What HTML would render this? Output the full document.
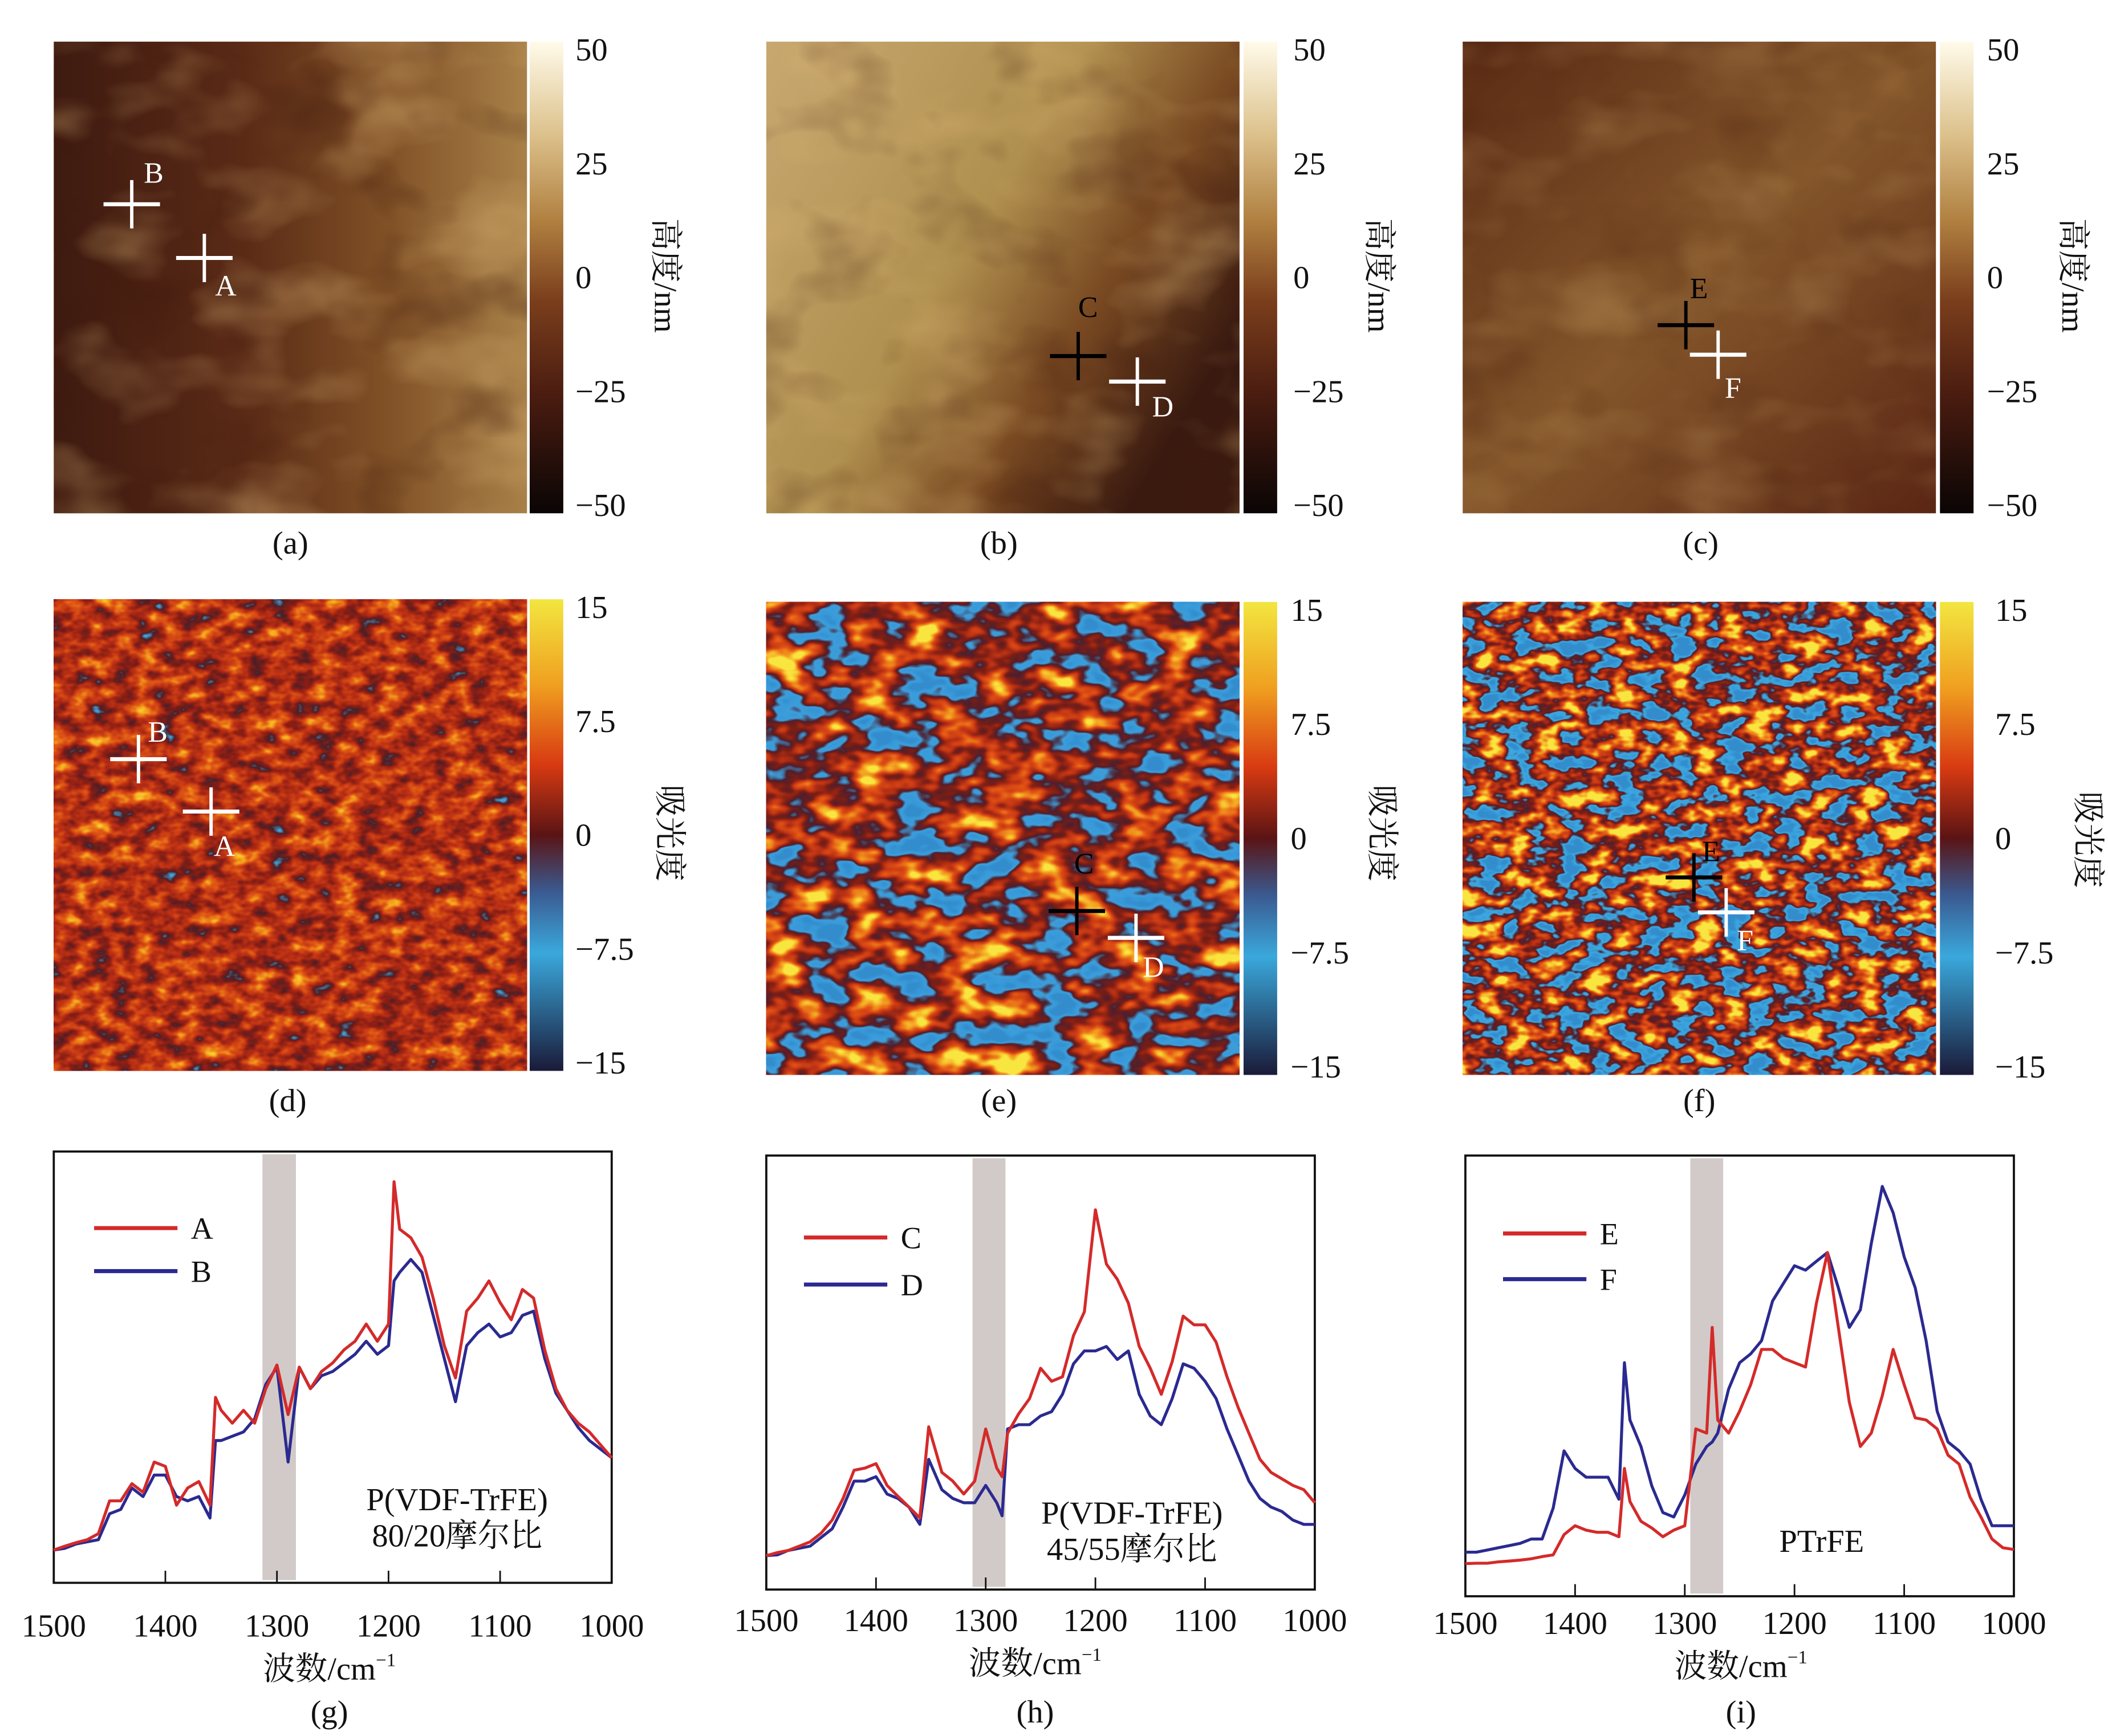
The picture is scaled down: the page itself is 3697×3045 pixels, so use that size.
<!DOCTYPE html>
<html><head><meta charset="utf-8">
<style>
html,body{margin:0;padding:0;background:#fff;}
svg{display:block;}
text{font-family:"Liberation Serif","Noto Serif CJK SC",serif;fill:#111;}
</style></head>
<body>
<svg id="fig" width="3697" height="3045" viewBox="0 0 1568 1292" preserveAspectRatio="none" xmlns="http://www.w3.org/2000/svg">
<defs>
  <linearGradient id="afmBar" x1="0" y1="0" x2="0" y2="1">
    <stop offset="0" stop-color="#fffbea"/><stop offset="0.2" stop-color="#dcc08a"/>
    <stop offset="0.38" stop-color="#b08040"/><stop offset="0.55" stop-color="#7a3e1c"/>
    <stop offset="0.75" stop-color="#4a1c10"/><stop offset="1" stop-color="#0a0505"/>
  </linearGradient>
  <linearGradient id="irBar" x1="0" y1="0" x2="0" y2="1">
    <stop offset="0" stop-color="#f2e640"/><stop offset="0.18" stop-color="#f0a020"/>
    <stop offset="0.35" stop-color="#d83a12"/><stop offset="0.5" stop-color="#5a1414"/>
    <stop offset="0.62" stop-color="#3a5a90"/><stop offset="0.75" stop-color="#3aa8dc"/>
    <stop offset="1" stop-color="#1a1a38"/>
  </linearGradient>
  <linearGradient id="afmA" x1="0" y1="0" x2="1" y2="0">
    <stop offset="0" stop-color="#3e1a10"/><stop offset="0.4" stop-color="#5a2a16"/>
    <stop offset="0.7" stop-color="#805026"/><stop offset="1" stop-color="#a88048"/>
  </linearGradient>
  <linearGradient id="afmB" x1="0" y1="0" x2="1" y2="0.6">
    <stop offset="0" stop-color="#c8a870"/><stop offset="0.5" stop-color="#b0904f"/>
    <stop offset="0.75" stop-color="#7a4a22"/><stop offset="1" stop-color="#3a1a10"/>
  </linearGradient>
  <linearGradient id="afmC" x1="0" y1="0" x2="1" y2="1">
    <stop offset="0" stop-color="#5a2a14"/><stop offset="0.5" stop-color="#84562a"/>
    <stop offset="1" stop-color="#5a2614"/>
  </linearGradient>
  <filter id="afmNoise" x="0" y="0" width="1" height="1" color-interpolation-filters="sRGB">
    <feTurbulence type="fractalNoise" baseFrequency="0.012 0.02" numOctaves="3" seed="4"/>
    <feColorMatrix type="matrix" values="0 0 0 0 0.85  0 0 0 0 0.7  0 0 0 0 0.45  1.8 0 0 0 -0.85"/>
  </filter>
  <filter id="afmNoise2" x="0" y="0" width="1" height="1" color-interpolation-filters="sRGB">
    <feTurbulence type="fractalNoise" baseFrequency="0.015 0.02" numOctaves="3" seed="9"/>
    <feColorMatrix type="matrix" values="0 0 0 0 0.25  0 0 0 0 0.1  0 0 0 0 0.05  -1.8 0 0 0 0.85"/>
  </filter>
  <filter id="irD" x="0" y="0" width="1" height="1" color-interpolation-filters="sRGB">
    <feTurbulence type="fractalNoise" baseFrequency="0.06 0.09" numOctaves="3" seed="2"/>
    <feColorMatrix type="matrix" values="0.9 0 0 0 0.15  0.9 0 0 0 0.15  0.9 0 0 0 0.15  0 0 0 0 1"/>
    <feComponentTransfer>
      <feFuncR type="table" tableValues="0.10 0.20 0.25 0.30 0.55 0.75 0.88 0.96 0.98"/>
      <feFuncG type="table" tableValues="0.12 0.45 0.65 0.12 0.12 0.20 0.35 0.65 0.90"/>
      <feFuncB type="table" tableValues="0.30 0.75 0.88 0.15 0.08 0.08 0.08 0.12 0.25"/>
    </feComponentTransfer>
  </filter>
  <filter id="irE" x="0" y="0" width="1" height="1" color-interpolation-filters="sRGB">
    <feTurbulence type="fractalNoise" baseFrequency="0.03 0.05" numOctaves="3" seed="7"/>
    <feColorMatrix type="matrix" values="2.0 0 0 0 -0.5  2.0 0 0 0 -0.5  2.0 0 0 0 -0.5  0 0 0 0 1"/>
    <feComponentTransfer>
      <feFuncR type="table" tableValues="0.20 0.22 0.24 0.30 0.50 0.75 0.88 0.95 0.98"/>
      <feFuncG type="table" tableValues="0.55 0.60 0.62 0.12 0.12 0.20 0.32 0.60 0.90"/>
      <feFuncB type="table" tableValues="0.80 0.85 0.86 0.18 0.08 0.08 0.08 0.12 0.25"/>
    </feComponentTransfer>
  </filter>
  <filter id="irF" x="0" y="0" width="1" height="1" color-interpolation-filters="sRGB">
    <feTurbulence type="fractalNoise" baseFrequency="0.05 0.08" numOctaves="3" seed="12"/>
    <feColorMatrix type="matrix" values="2.2 0 0 0 -0.6  2.2 0 0 0 -0.6  2.2 0 0 0 -0.6  0 0 0 0 1"/>
    <feComponentTransfer>
      <feFuncR type="table" tableValues="0.20 0.22 0.24 0.30 0.50 0.75 0.88 0.95 0.98"/>
      <feFuncG type="table" tableValues="0.55 0.62 0.66 0.12 0.12 0.20 0.32 0.60 0.90"/>
      <feFuncB type="table" tableValues="0.80 0.86 0.88 0.18 0.08 0.08 0.08 0.12 0.25"/>
    </feComponentTransfer>
  </filter>
</defs>

<!-- Row 1: AFM height maps -->
<g>
  <rect x="40" y="31" width="352" height="351" fill="url(#afmA)"/>
  <rect x="40" y="31" width="352" height="351" filter="url(#afmNoise)" opacity="0.6"/>
  <rect x="40" y="31" width="352" height="351" filter="url(#afmNoise2)" opacity="0.6"/>
</g>
<g>
  <rect x="570" y="31" width="352" height="351" fill="url(#afmB)"/>
  <rect x="570" y="31" width="352" height="351" filter="url(#afmNoise)" opacity="0.6"/>
  <rect x="570" y="31" width="352" height="351" filter="url(#afmNoise2)" opacity="0.5"/>
</g>
<g>
  <rect x="1088" y="31" width="352" height="351" fill="url(#afmC)"/>
  <rect x="1088" y="31" width="352" height="351" filter="url(#afmNoise)" opacity="0.4"/>
  <rect x="1088" y="31" width="352" height="351" filter="url(#afmNoise2)" opacity="0.4"/>
</g>
<!-- Row 2: IR maps -->
<rect x="40" y="446" width="352" height="351" filter="url(#irD)"/>
<rect x="570" y="448" width="352" height="352" filter="url(#irE)"/>
<rect x="1088" y="448" width="352" height="352" filter="url(#irF)"/>

<g id="overlay"></g>
<g id="charts"></g>
</svg>

<script>
// ---------- chart data ----------
const wnG = [1500,1490,1480,1470,1460,1450,1440,1430,1420,1410,1400,1390,1380,1370,1360,1355,1350,1340,1330,1320,1310,1300,1290,1280,1270,1260,1250,1240,1230,1220,1210,1200,1195,1190,1180,1170,1160,1150,1140,1130,1120,1110,1100,1090,1080,1070,1060,1050,1040,1030,1020,1010,1000];
const seriesA = [.076,.085,.093,.10,.114,.19,.19,.23,.21,.28,.27,.18,.22,.235,.18,.43,.40,.37,.40,.37,.45,.505,.39,.50,.45,.49,.51,.54,.56,.60,.56,.60,.93,.82,.80,.755,.66,.55,.475,.63,.66,.70,.65,.61,.68,.66,.54,.45,.40,.37,.35,.32,.29];
const seriesB = [.076,.08,.09,.095,.10,.16,.17,.22,.20,.25,.25,.20,.19,.20,.15,.33,.33,.34,.35,.38,.46,.50,.28,.50,.45,.48,.49,.51,.53,.56,.53,.55,.70,.72,.75,.72,.62,.52,.42,.55,.58,.60,.57,.58,.62,.63,.52,.44,.40,.36,.33,.31,.29];
const wnH = [1500,1490,1480,1470,1460,1450,1440,1430,1420,1410,1400,1390,1380,1370,1360,1352,1340,1330,1320,1310,1300,1290,1285,1280,1270,1260,1250,1240,1230,1220,1210,1200,1190,1180,1170,1160,1150,1140,1130,1120,1110,1100,1090,1080,1070,1060,1050,1040,1030,1020,1010,1000];
const seriesC = [.078,.085,.09,.10,.11,.13,.16,.21,.275,.28,.29,.24,.215,.19,.165,.375,.27,.25,.22,.25,.37,.28,.26,.36,.405,.44,.51,.48,.49,.585,.64,.875,.75,.715,.66,.56,.51,.45,.525,.63,.61,.61,.57,.49,.42,.36,.30,.27,.255,.24,.23,.20];
const seriesD = [.078,.08,.09,.095,.10,.12,.14,.19,.25,.25,.26,.22,.21,.19,.15,.30,.23,.21,.20,.20,.24,.20,.17,.37,.38,.38,.40,.41,.45,.52,.55,.55,.56,.53,.55,.45,.40,.38,.44,.52,.51,.48,.44,.37,.31,.25,.21,.19,.18,.16,.15,.15];
const wnI = [1500,1490,1480,1470,1460,1450,1440,1430,1420,1410,1400,1390,1380,1370,1360,1355,1350,1340,1330,1320,1310,1300,1290,1280,1275,1270,1260,1250,1240,1230,1220,1210,1200,1190,1180,1170,1160,1150,1140,1130,1120,1110,1100,1090,1080,1070,1060,1050,1040,1030,1020,1010,1000];
const seriesE = [.074,.075,.075,.078,.08,.082,.085,.09,.094,.14,.16,.15,.145,.145,.135,.29,.215,.17,.155,.135,.15,.16,.38,.37,.61,.40,.37,.42,.48,.56,.56,.54,.53,.52,.665,.78,.61,.44,.34,.37,.455,.56,.48,.405,.40,.38,.32,.30,.225,.18,.13,.11,.106];
const seriesF = [.10,.10,.105,.11,.115,.12,.13,.13,.20,.33,.29,.27,.27,.27,.22,.53,.40,.34,.25,.19,.18,.23,.30,.34,.35,.37,.47,.53,.55,.58,.67,.71,.75,.74,.76,.78,.70,.61,.65,.80,.93,.87,.77,.70,.58,.42,.35,.33,.30,.22,.16,.16,.16];
const xTicks = [1500,1400,1300,1200,1100,1000];
const afmTicks = ["50","25","0","\u221225","\u221250"];
const irTicks = ["15","7.5","0","\u22127.5","\u221215"];

const NS = "http://www.w3.org/2000/svg";
function mk(parent, tag, attrs, txt){
  const e = document.createElementNS(NS, tag);
  for (const k in attrs) e.setAttribute(k, attrs[k]);
  if (txt !== undefined) e.textContent = txt;
  parent.appendChild(e); return e;
}
const ov = document.getElementById('overlay');

// ---------- colorbars and labels ----------
const bars = [
  {x:394,y:31,h:351,fill:'url(#afmBar)',ticks:afmTicks,lx:428,label:'高度/nm',tx:487,ty:205,cap:'(a)',cx:216,cy:412},
  {x:925,y:31,h:351,fill:'url(#afmBar)',ticks:afmTicks,lx:962,label:'高度/nm',tx:1018,ty:205,cap:'(b)',cx:743,cy:412},
  {x:1443,y:31,h:351,fill:'url(#afmBar)',ticks:afmTicks,lx:1478,label:'高度/nm',tx:1534,ty:205,cap:'(c)',cx:1265,cy:412},
  {x:394,y:446,h:351,fill:'url(#irBar)',ticks:irTicks,lx:428,label:'吸光度',tx:490,ty:620,cap:'(d)',cx:214,cy:827},
  {x:925,y:448,h:352,fill:'url(#irBar)',ticks:irTicks,lx:960,label:'吸光度',tx:1020,ty:620,cap:'(e)',cx:743,cy:827},
  {x:1443,y:448,h:352,fill:'url(#irBar)',ticks:irTicks,lx:1484,label:'吸光度',tx:1545,ty:625,cap:'(f)',cx:1264,cy:827}
];
bars.forEach(function(b){
  const cb = mk(ov,'rect',{x:b.x,y:b.y,width:25,height:b.h,fill:b.fill});
  
  
  b.ticks.forEach(function(t,i){
    const tt = mk(ov,'text',{x:b.lx,y:b.y+14+i*(b.h/4)-(i*3),'font-size':24}, t);
    
    
  });
  const lab = mk(ov,'text',{x:b.tx,y:b.ty,'font-size':24,'text-anchor':'middle',transform:'rotate(90 '+b.tx+' '+b.ty+')'}, b.label);
  
  
  const cap = mk(ov,'text',{x:b.cx,y:b.cy,'font-size':24,'text-anchor':'middle'}, b.cap);
  
  
});

// ---------- crosshair markers ----------
const marks = [
  [98,152,'#fff','B',107,136],[152,192,'#fff','A',160,220],
  [802,265,'#000','C',802,236],[846,284,'#fff','D',857,310],
  [1254,242,'#000','E',1257,222],[1278,264,'#fff','F',1283,296],
  [103,565,'#fff','B',110,552],[157,604,'#fff','A',159,637],
  [801,678,'#000','C',799,650],[845,698,'#fff','D',850,727],
  [1260,653,'#000','E',1266,641],[1284,679,'#fff','F',1292,707]
];
marks.forEach(function(m){
  const g = mk(ov,'g',{});
  
  
  mk(g,'line',{x1:m[0]-21,y1:m[1],x2:m[0]+21,y2:m[1],stroke:m[2],'stroke-width':3});
  mk(g,'line',{x1:m[0],y1:m[1]-18,x2:m[0],y2:m[1]+18,stroke:m[2],'stroke-width':2.5});
  const t = mk(g,'text',{x:m[4],y:m[5],'font-size':22,fill:m[2]}, m[3]);
  t.style.fill = m[2];
});

// ---------- spectra charts ----------
const charts = [
  {x0:40,x1:455,y0:857,y1:1178,wn:wnG,s1:seriesA,s2:seriesB,n1:'A',n2:'B',band:[1313,1283],
   leg:[70,914,946],ann:['P(VDF-TrFE)','80/20摩尔比'],ax:340,ay:1124,tly:1218,xl:245,xly:1250,cap:'(g)',cy:1282},
  {x0:570,x1:978,y0:860,y1:1183,wn:wnH,s1:seriesC,s2:seriesD,n1:'C',n2:'D',band:[1312,1282],
   leg:[598,921,956],ann:['P(VDF-TrFE)','45/55摩尔比'],ax:842,ay:1134,tly:1214,xl:770,xly:1246,cap:'(h)',cy:1282},
  {x0:1090,x1:1498,y0:860,y1:1188,wn:wnI,s1:seriesE,s2:seriesF,n1:'E',n2:'F',band:[1295,1265],
   leg:[1118,918,952],ann:['PTrFE'],ax:1355,ay:1155,tly:1216,xl:1295,xly:1248,cap:'(i)',cy:1282}
];
const chartsG = document.getElementById('charts');
charts.forEach(function(c){
  const g = mk(chartsG,'g',{});
  
  
  const xs = function(w){ return c.x0 + (1500 - w)/500*(c.x1-c.x0); };
  const ys = function(v){ return c.y1 - v*(c.y1-c.y0); };
  const band = mk(g,'rect',{x:xs(c.band[0]),y:c.y0+2,width:xs(c.band[1])-xs(c.band[0]),height:c.y1-c.y0-4,fill:'#d2cac8'});
  
  
  const fr = mk(g,'rect',{x:c.x0,y:c.y0,width:c.x1-c.x0,height:c.y1-c.y0,fill:'none',stroke:'#111','stroke-width':1.6});
  
  
  xTicks.forEach(function(t){
    mk(g,'line',{x1:xs(t),y1:c.y1,x2:xs(t),y2:c.y1-9,stroke:'#111','stroke-width':1.2});
    const tl = mk(g,'text',{x:xs(t),y:c.tly,'font-size':24,'text-anchor':'middle'}, String(t));
    
    
  });
  [[c.s2,'#2b2a90'],[c.s1,'#d42a2a']].forEach(function(s,si){
    let d = '';
    c.wn.forEach(function(w,i){ d += (i?'L':'M') + xs(w).toFixed(1) + ' ' + ys(s[0][i]).toFixed(1); });
    const p = mk(g,'path',{d:d,fill:'none',stroke:s[1],'stroke-width':2.2,'stroke-linejoin':'round'});
    
    
  });
  const lg = mk(g,'g',{});
  
  
  mk(lg,'line',{x1:c.leg[0],y1:c.leg[1],x2:c.leg[0]+62,y2:c.leg[1],stroke:'#d42a2a','stroke-width':3});
  mk(lg,'text',{x:c.leg[0]+72,y:c.leg[1]+8,'font-size':23}, c.n1);
  mk(lg,'line',{x1:c.leg[0],y1:c.leg[2],x2:c.leg[0]+62,y2:c.leg[2],stroke:'#2b2a90','stroke-width':3});
  mk(lg,'text',{x:c.leg[0]+72,y:c.leg[2]+8,'font-size':23}, c.n2);
  c.ann.forEach(function(a,i){
    const at = mk(g,'text',{x:c.ax,y:c.ay+i*27,'font-size':24,'text-anchor':'middle'}, a);
    
    
  });
  const xl = mk(g,'text',{x:c.xl,y:c.xly,'font-size':24,'text-anchor':'middle'});
  
  
  mk(xl,'tspan',{}, '波数/cm');
  mk(xl,'tspan',{'font-size':14,dy:-10}, '\u22121');
  const cp = mk(g,'text',{x:c.xl,y:c.cy,'font-size':24,'text-anchor':'middle'}, c.cap);
  
  
});
</script>
</body></html>
